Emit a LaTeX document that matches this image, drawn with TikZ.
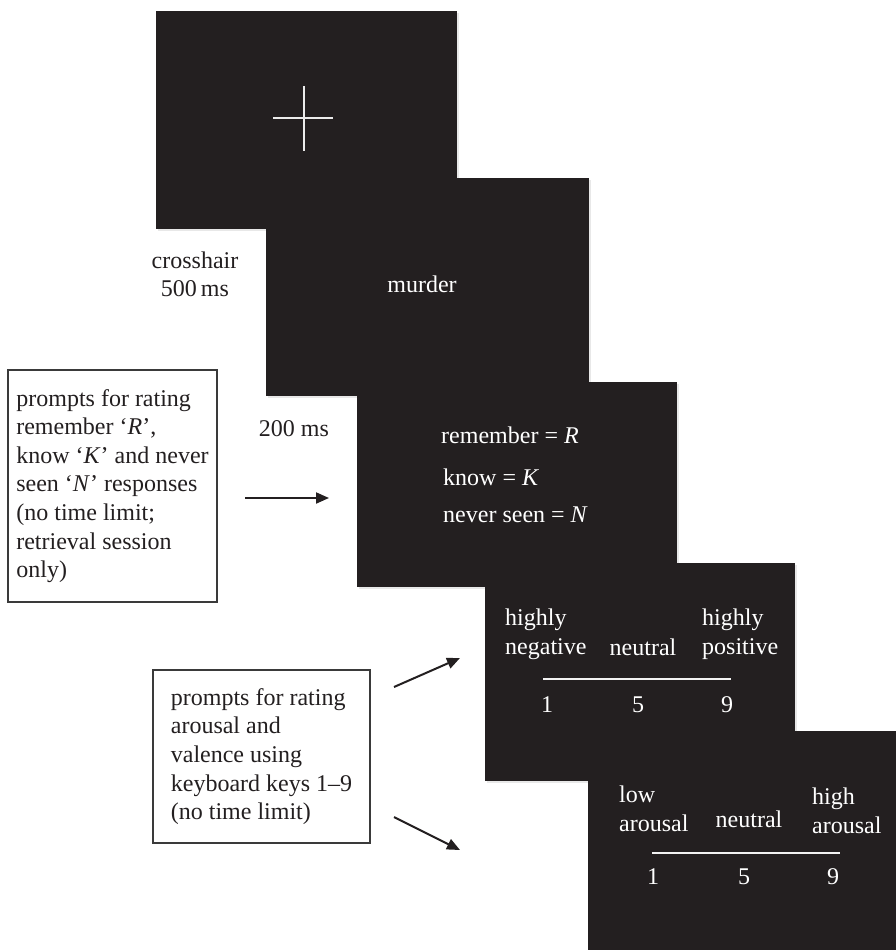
\documentclass[tikz,border=0pt]{standalone}
\usepackage{fontspec}
\setmainfont{Liberation Serif}
\usetikzlibrary{arrows.meta,shadows}
\definecolor{scr}{HTML}{231F20}
\definecolor{ink}{HTML}{231F20}
\definecolor{boxc}{HTML}{3A3A3A}
\tikzset{
  screen/.style={fill=scr, draw=none, inner sep=0pt, anchor=north west,
    drop shadow={opacity=0.18, shadow xshift=1.5pt, shadow yshift=-1.5pt}},
  wtxt/.style={text=white, inner sep=0pt, font=\fontsize{24}{29}\selectfont, align=left},
  btxt/.style={text=ink, inner sep=0pt, font=\fontsize{24}{28}\selectfont, align=center},
  promptbox/.style={draw=boxc, line width=1.5pt, align=left, inner sep=0pt, text=ink,
    font=\fontsize{24}{28.6}\selectfont},
  arr/.style={line width=2pt, draw=ink, -{Triangle[length=13pt,width=11pt]}},
  crossline/.style={draw=white!92!black, line width=2pt},
  scaleline/.style={draw=white!95!black, line width=2.5pt},
}
\begin{document}
\begin{tikzpicture}[x=1pt, y=-1pt]
\useasboundingbox (0,0) rectangle (896,950);
% screens
\node[screen, minimum width=301pt, minimum height=218pt] (s1) at (156,11) {};
\node[screen, minimum width=323pt, minimum height=218pt] (s2) at (266,178) {};
\node[screen, minimum width=320pt, minimum height=205pt] (s3) at (357,382) {};
\node[screen, minimum width=310pt, minimum height=218pt] (s4) at (485,563) {};
\node[screen, minimum width=308pt, minimum height=219pt] (s5) at (588,731) {};
% crosshair
\draw[crossline] (273,118) -- (333,118);
\draw[crossline] (304,86) -- (304,151);
% labels outside screens
\node[btxt] (lab1) at (195,274) {crosshair\\500\,ms};
\node[btxt] (lab2) at (294,429) {200 ms};
% screen 2
\node[wtxt] (word) at (422,284) {murder};
% screen 3
\node[wtxt, anchor=west] (rem) at (441,435) {remember = \textit{R}};
\node[wtxt, anchor=west] (know) at (443,477) {know = \textit{K}};
\node[wtxt, anchor=west] (never) at (443,515) {never seen = \textit{N}};
% screen 4
\node[wtxt, anchor=west] (hneg) at (505,634.5) {highly\\negative};
\node[wtxt] (neu1) at (643,647) {neutral};
\node[wtxt, anchor=west] (hpos) at (702,634.5) {highly\\positive};
\draw[scaleline] (543,679) -- (731,679);
\node[wtxt] (v1a) at (547,705) {1};
\node[wtxt] (v5a) at (638,705) {5};
\node[wtxt] (v9a) at (727,705) {9};
% screen 5
\node[wtxt, anchor=west] (lowa) at (619,808.5) {low\\arousal};
\node[wtxt] (neu2) at (749,819) {neutral};
\node[wtxt, anchor=west] (higha) at (812,810.5) {high\\arousal};
\draw[scaleline] (652,853) -- (840,853);
\node[wtxt] (v1b) at (653,877) {1};
\node[wtxt] (v5b) at (744,877) {5};
\node[wtxt] (v9b) at (833,877) {9};
% prompt boxes
\node[promptbox, minimum width=209pt, minimum height=232pt] (box1) at (112.5,486)
  {prompts for rating\\remember ‘\textit{R}’,\\know ‘\textit{K}’ and never\\seen ‘\textit{N}’ responses\\(no time limit;\\retrieval session\\only)};
\node[promptbox, minimum width=217pt, minimum height=173pt] (box2) at (261.5,756.5)
  {prompts for rating\\arousal and\\valence using\\keyboard keys 1–9\\(no time limit)};
% arrows
\coordinate (a1s) at (245,498);
\coordinate (a1e) at (329,498);
\coordinate (a2s) at (394,687);
\coordinate (a2e) at (460,658);
\coordinate (a3s) at (394,817);
\coordinate (a3e) at (460,850);
\draw[arr] (a1s) -- (a1e);
\draw[arr] (a2s) -- (a2e);
\draw[arr] (a3s) -- (a3e);
\end{tikzpicture}
\end{document}
